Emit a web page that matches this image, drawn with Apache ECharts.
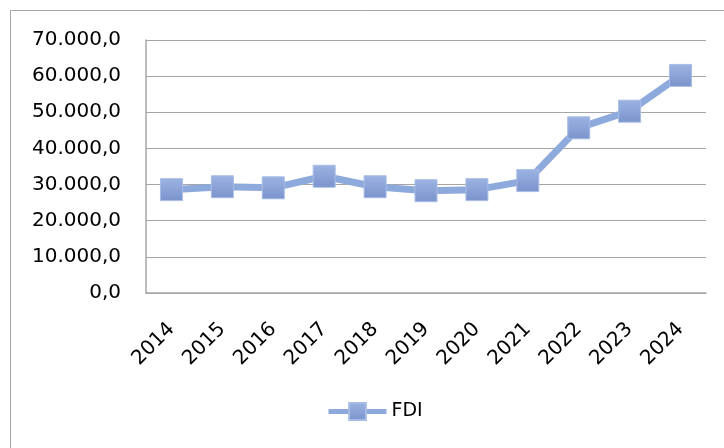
<!DOCTYPE html>
<html>
<head>
<meta charset="utf-8">
<script src="https://cdn.jsdelivr.net/npm/echarts@6/dist/echarts.min.js"></script>
<style>
html,body{margin:0;padding:0;background:#fff;}
#c{width:724px;height:448px;}
</style>
</head>
<body>
<div id="c"></div>
<script>
var categories = ['2014','2015','2016','2017','2018','2019','2020','2021','2022','2023','2024'];
var fdiValues = [28600, 29400, 29100, 32300, 29400, 28300, 28600, 31100, 45700, 50300, 60200];
var seriesName = 'FDI';
var yMin = 0, yMax = 70000, yStep = 10000;

function fmt(v){
  var s = Math.round(v).toString().replace(/\B(?=(\d{3})+(?!\d))/g, '.');
  return s + ',0';
}

var chart = echarts.init(document.getElementById('c'), null, {renderer:'canvas'});
var font = 'DejaVu Sans, sans-serif';
chart.setOption({
  animation:false,
  backgroundColor:'#ffffff',
  graphic:[{
    type:'rect',
    shape:{x:10.5,y:10.5,width:900,height:900},
    style:{fill:'none',stroke:'#a6a6a6',lineWidth:1},
    silent:true
  }],
  grid:{left:146,right:18,top:40,bottom:155},
  legend:{
    left:326,
    top:402,
    padding:0,
    itemWidth:58,
    itemHeight:21,
    textStyle:{fontFamily:font,fontSize:19,color:'#000'},
    lineStyle:{width:5,color:'#8eaadc'},
    data:[seriesName]
  },
  xAxis:{
    type:'category',
    data:categories,
    boundaryGap:true,
    axisLine:{show:true,lineStyle:{color:'#a6a6a6',width:1.5}},
    axisTick:{show:false},
    axisLabel:{rotate:45,fontFamily:font,fontSize:20,color:'#000',margin:33,interval:0}
  },
  yAxis:{
    type:'value',
    min:yMin,max:yMax,interval:yStep,
    axisLine:{show:true,lineStyle:{color:'#a6a6a6',width:1.5}},
    axisTick:{show:false},
    splitLine:{show:true,lineStyle:{color:'#a6a6a6',width:1.2}},
    axisLabel:{fontFamily:font,fontSize:20,color:'#000',margin:25,formatter:fmt}
  },
  series:[{
    name:seriesName,
    type:'line',
    data:fdiValues,
    symbol:'rect',
    symbolSize:22,
    lineStyle:{color:'#8eaadc',width:7},
    itemStyle:{
      color:new echarts.graphic.LinearGradient(0,0,0,1,[{offset:0,color:'#9cb3e2'},{offset:1,color:'#7a93cc'}]),
      borderColor:'#a8bde6',borderWidth:1
    },
    emphasis:{disabled:true}
  }]
});
</script>
</body>
</html>
